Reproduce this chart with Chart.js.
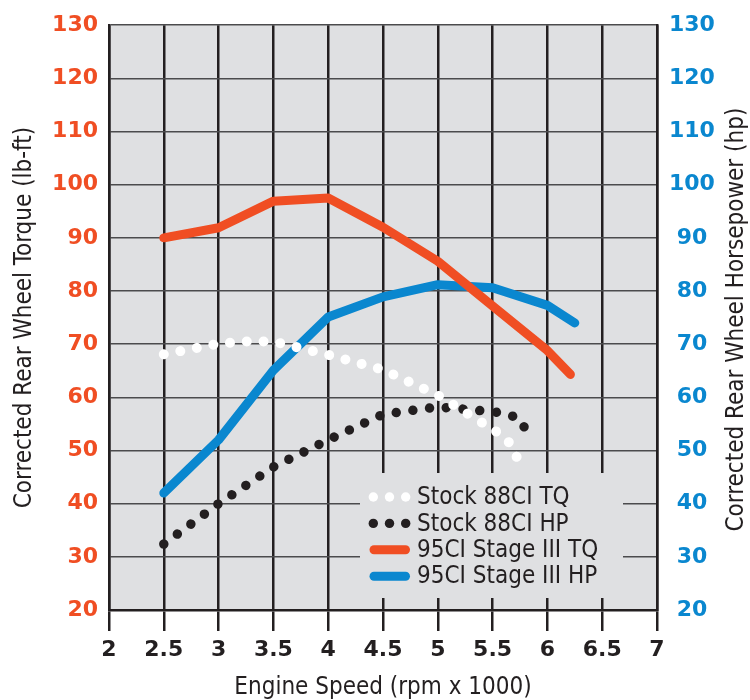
<!DOCTYPE html>
<html>
<head>
<meta charset="utf-8">
<script src="https://cdn.jsdelivr.net/npm/chart.js@4.4.0/dist/chart.umd.min.js"></script>
<style>
  html, body { margin: 0; padding: 0; background: #ffffff; }
  #wrap { width: 750px; height: 700px; position: relative; }
</style>
</head>
<body>
<div id="wrap"><canvas id="dynoChart" width="750" height="700"></canvas></div>
<script>
// ---- data (rpm x 1000) ----
const stockTqRpm = [2.5, 3, 3.25, 3.5, 4, 4.5, 5, 5.5, 5.62, 5.7, 5.75];
const stockTq    = [68.1, 70.1, 70.5, 70.5, 68.0, 65.2, 60.4, 54.0, 52.4, 50.0, 46.9];

const stockHpRpm = [2.5, 3, 3.5, 4, 4.5, 5, 5.5, 5.63, 5.76, 5.82];
const stockHp    = [32.4, 40.0, 46.9, 52.0, 56.8, 58.2, 57.3, 56.9, 55.8, 52.8];

const stageTqRpm = [2.5, 3, 3.5, 4, 4.5, 5, 5.5, 6, 6.21];
const stageTq    = [90.0, 91.9, 96.9, 97.5, 92.0, 85.6, 77.2, 68.8, 64.3];

const stageHpRpm = [2.5, 3, 3.5, 4, 4.5, 5, 5.5, 6, 6.25];
const stageHp    = [42.0, 52.0, 65.1, 75.1, 78.9, 81.2, 80.6, 77.3, 74.0];

const seriesLabels = ['Stock 88CI TQ', 'Stock 88CI HP', '95CI Stage III TQ', '95CI Stage III HP'];
const xMin = 2, xMax = 7, xStep = 0.5;
const yMin = 20, yMax = 130, yStep = 10;

const ORANGE = '#f04e23';
const BLUE = '#0a87cf';
const INK = '#231f20';
const PANEL = '#dfe0e2';
const tickFont = { family: '"DejaVu Sans", sans-serif', size: 22, weight: 'bold' };
const titleFont = { family: '"Liberation Sans Narrow", "DejaVu Sans Condensed", "Roboto", sans-serif', size: 24, weight: 'normal', lineHeight: 1 };

function pts(xs, ys) {
    return xs.map((x, i) => ({ x: x, y: ys[i] }));
}

// gray plotting panel behind the grid
const panelBg = {
    id: 'panelBg',
    beforeDraw(chart) {
        const { ctx, chartArea: a } = chart;
        ctx.save();
        ctx.fillStyle = PANEL;
        ctx.fillRect(a.left, a.top, a.right - a.left, a.bottom - a.top);
        ctx.restore();
    }
};

// legend box sitting inside the plot, covering the grid
const insetLegend = {
    id: 'insetLegend',
    beforeDatasetsDraw(chart) {
        const { ctx } = chart;
        const box = { x: 360, y: 473, w: 263, h: 125 };
        ctx.save();
        ctx.fillStyle = PANEL;
        ctx.fillRect(box.x, box.y, box.w, box.h);
        const rowH = 26.4;
        chart.data.datasets.forEach((ds, i) => {
            const cy = box.y + 24 + i * rowH;
            if (ds.borderDash && ds.borderDash.length) {
                ctx.fillStyle = ds.borderColor;
                [373.3, 389.5, 405.7].forEach(cx => {
                    ctx.beginPath();
                    ctx.arc(cx, cy, 4.7, 0, Math.PI * 2);
                    ctx.fill();
                });
            } else {
                ctx.strokeStyle = ds.borderColor;
                ctx.lineWidth = ds.borderWidth;
                ctx.lineCap = 'round';
                ctx.beginPath();
                ctx.moveTo(374, cy);
                ctx.lineTo(405.5, cy);
                ctx.stroke();
            }
            ctx.fillStyle = INK;
            ctx.font = `24px ${titleFont.family}`;
            ctx.textBaseline = 'middle';
            ctx.textAlign = 'left';
            ctx.fillText(ds.label, 417, cy + 1);
        });
        ctx.restore();
    }
};

// right-hand title reads bottom-to-top like the left one
const rightTitle = {
    id: 'rightTitle',
    afterDraw(chart) {
        const { ctx, chartArea: a } = chart;
        ctx.save();
        ctx.translate(737, (a.top + a.bottom) / 2 + 2);
        ctx.rotate(-Math.PI / 2);
        ctx.fillStyle = INK;
        ctx.font = `24px ${titleFont.family}`;
        ctx.textAlign = 'center';
        ctx.textBaseline = 'middle';
        ctx.fillText('Corrected Rear Wheel Horsepower (hp)', 0, 0);
        ctx.restore();
    }
};

const dotted = (color, w) => ({
    borderColor: color,
    backgroundColor: color,
    borderWidth: w,
    borderDash: [0.01, 16.8],
    borderCapStyle: 'round',
    pointRadius: 0,
    tension: 0,
    fill: false
});

new Chart(document.getElementById('dynoChart'), {
    type: 'line',
    data: {
        datasets: [
            Object.assign({ label: seriesLabels[0], data: pts(stockTqRpm, stockTq), yAxisID: 'y' }, dotted('#ffffff', 10)),
            Object.assign({ label: seriesLabels[1], data: pts(stockHpRpm, stockHp), yAxisID: 'y2' }, dotted(INK, 9.5)),
            {
                label: seriesLabels[2], data: pts(stageTqRpm, stageTq), yAxisID: 'y',
                borderColor: ORANGE, backgroundColor: ORANGE, borderWidth: 9,
                borderCapStyle: 'round', borderJoinStyle: 'round', pointRadius: 0, tension: 0
            },
            {
                label: seriesLabels[3], data: pts(stageHpRpm, stageHp), yAxisID: 'y2',
                borderColor: BLUE, backgroundColor: BLUE, borderWidth: 9,
                borderCapStyle: 'round', borderJoinStyle: 'round', pointRadius: 0, tension: 0
            }
        ]
    },
    options: {
        responsive: false,
        animation: false,
        devicePixelRatio: 1,
        layout: { padding: { top: 20, left: 0, right: 0, bottom: 0 } },
        plugins: {
            legend: { display: false },
            tooltip: { enabled: false }
        },
        scales: {
            x: {
                type: 'linear',
                min: xMin, max: xMax,
                afterFit: s => { s.height = 90; },
                ticks: {
                    stepSize: xStep,
                    color: INK,
                    font: tickFont,
                    padding: 6,
                    maxRotation: 0,
                    callback: v => String(v)
                },
                grid: { color: INK, lineWidth: 2.5, tickLength: 21, drawTicks: true },
                border: { color: INK, width: 2.5 },
                title: {
                    display: true,
                    text: 'Engine Speed (rpm x 1000)',
                    color: INK,
                    font: titleFont,
                    padding: { top: 0, bottom: 0 }
                }
            },
            y: {
                position: 'left',
                min: yMin, max: yMax,
                afterFit: s => { s.width = 109; },
                ticks: { stepSize: yStep, color: ORANGE, font: tickFont, padding: 11 },
                grid: { color: '#4b4b4d', lineWidth: 1.5, drawTicks: false },
                border: { color: INK, width: 2.5 },
                title: {
                    display: true,
                    text: 'Corrected Rear Wheel Torque (lb-ft)',
                    color: INK,
                    font: titleFont,
                    padding: { top: 13, bottom: 0 }
                }
            },
            y2: {
                position: 'right',
                min: yMin, max: yMax,
                afterFit: s => { s.width = 93; },
                ticks: { stepSize: yStep, color: BLUE, font: tickFont, padding: 12, crossAlign: 'center' },
                grid: { drawOnChartArea: false, drawTicks: false },
                border: { color: INK, width: 2.5 }
            }
        }
    },
    plugins: [panelBg, insetLegend, rightTitle]
});
</script>
</body>
</html>
